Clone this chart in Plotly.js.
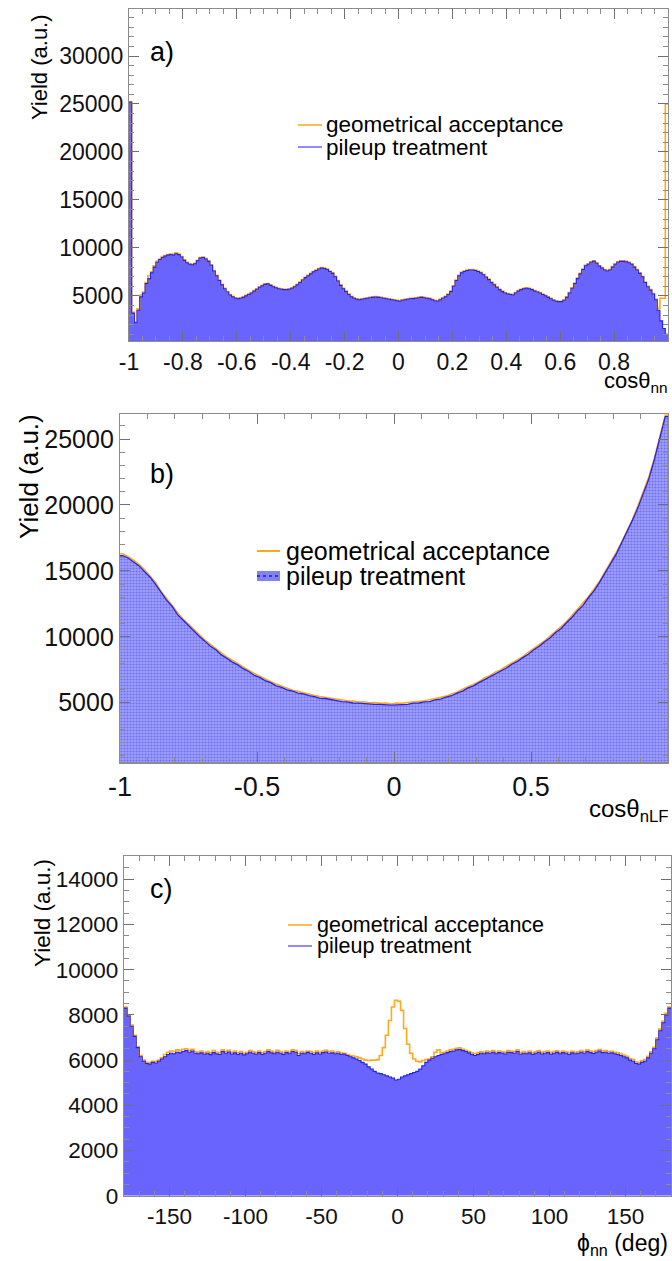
<!DOCTYPE html>
<html><head><meta charset="utf-8">
<script src="https://cdn.plot.ly/plotly-3.0.1.min.js"></script>
<style>html,body{margin:0;padding:0;background:#fff}#chart{width:672px;height:1261px}</style>
</head><body><div id="chart"></div>
<script>
// ---------------- data ----------------
// panel a: cos(theta_nn), 200 bins from -1 to 1
const aRange = [-1, 1];
const aPileup = [
 25200,3200,2200,3500,4900,5300,6300,6800,7400,8000,
 8500,8800,9000,9150,9250,9300,9250,9400,9300,9050,
 8700,8450,8300,8250,8350,8650,8950,9000,8850,8600,
 8200,7600,7100,6600,6150,5750,5400,5100,4900,4750,
 4700,4750,4850,5000,5150,5300,5500,5700,5900,6050,
 6200,6250,6100,5950,5850,5750,5700,5650,5650,5700,
 5800,5950,6150,6400,6650,6900,7100,7300,7500,7650,
 7800,7900,7850,7750,7550,7350,7000,6550,6100,5750,
 5450,5150,4900,4750,4650,4600,4650,4700,4750,4800,
 4850,4880,4850,4800,4750,4700,4650,4600,4550,4500,
 4450,4550,4600,4650,4700,4720,4750,4800,4850,4800,
 4750,4700,4600,4500,4450,4600,4750,4900,5150,5450,
 6000,6600,7100,7400,7550,7650,7700,7700,7650,7550,
 7400,7200,6950,6700,6400,6150,5900,5650,5450,5300,
 5200,5150,5100,5300,5500,5650,5750,5800,5750,5650,
 5500,5400,5300,5150,5000,4850,4700,4550,4450,4400,
 4400,4550,4850,5300,5800,6300,6800,7300,7750,8150,
 8300,8500,8600,8400,8100,7900,7700,7600,7700,8000,
 8300,8500,8600,8600,8550,8450,8300,8000,7700,7350,
 7000,6400,5950,5600,5200,4600,3500,2400,1600,1000];
const aGeo = [
 25200,3300,2300,3650,5100,5400,6400,7100,7500,8150,
 8600,8850,9100,9200,9300,9350,9300,9500,9350,9100,
 8750,8500,8350,8300,8400,8700,9000,9050,8900,8650,
 8250,7650,7150,6650,6200,5800,5450,5150,4950,4800,
 4750,4800,4900,5050,5200,5350,5550,5750,5950,6100,
 6250,6300,6150,6000,5900,5800,5750,5700,5700,5750,
 5850,6000,6200,6450,6700,6950,7150,7350,7550,7700,
 7850,7950,7900,7800,7600,7400,7050,6600,6150,5800,
 5500,5200,4950,4800,4700,4650,4700,4750,4800,4850,
 4900,4920,4900,4850,4800,4750,4700,4650,4600,4550,
 4500,4600,4650,4700,4750,4770,4800,4850,4900,4850,
 4800,4750,4650,4550,4500,4650,4800,4950,5200,5500,
 6050,6650,7150,7450,7600,7700,7750,7750,7700,7600,
 7450,7250,7000,6750,6450,6200,5950,5700,5500,5350,
 5250,5200,5150,5350,5550,5700,5800,5850,5800,5700,
 5550,5450,5350,5200,5050,4900,4750,4600,4500,4450,
 4450,4600,4900,5350,5850,6350,6850,7350,7800,8200,
 8350,8550,8650,8450,8150,7950,7750,7650,7750,8050,
 8350,8550,8650,8650,8600,8500,8350,8050,7750,7400,
 7050,6450,6000,5650,5250,4650,3700,4750,4750,25000];
const aTickVals = [-1,-0.8,-0.6,-0.4,-0.2,0,0.2,0.4,0.6,0.8,1];
const aTickText = ['-1','-0.8','-0.6','-0.4','-0.2','0','0.2','0.4','0.6','0.8','1'];
const aYTicks = [5000,10000,15000,20000,25000,30000];

// panel b: cos(theta_nLF), 100 bins from -1 to 1
const bRange = [-1, 1];
const bPileup = [
 16150,15980,15680,15380,14930,14520,13980,13330,12780,12320,
 11680,11270,10830,10470,10030,9670,9280,9020,8630,8370,
 8080,7870,7580,7370,7080,6920,6680,6520,6280,6170,
 5980,5870,5730,5670,5530,5470,5330,5320,5230,5170,
 5080,5070,4980,4970,4930,4920,4880,4870,4830,4810,
 4840,4870,4880,4970,4980,5070,5080,5220,5280,5420,
 5530,5720,5880,6120,6280,6520,6730,6970,7180,7420,
 7630,7920,8130,8420,8680,9020,9280,9630,9930,10330,
 10630,11080,11480,11980,12380,12980,13480,14130,14780,15530,
 16230,17080,17880,18830,19780,20880,21980,23430,24980,26700];
const bGeo = [
 16300,16080,15820,15470,15080,14600,14120,13420,12920,12400,
 11820,11350,10970,10550,10170,9750,9420,9100,8770,8450,
 8220,7950,7720,7450,7220,7000,6820,6600,6420,6250,
 6120,5950,5870,5750,5670,5550,5470,5400,5370,5250,
 5220,5150,5120,5050,5070,5000,5020,4950,4970,4900,
 4970,4950,5020,5050,5120,5150,5220,5300,5420,5500,
 5670,5800,6020,6200,6420,6600,6870,7050,7320,7500,
 7770,8000,8270,8500,8820,9100,9420,9700,10070,10400,
 10770,11150,11620,12050,12520,13050,13620,14200,14920,15600,
 16370,17150,18020,18900,19920,20950,22120,23500,25120,26800];
const bTickVals = [-1,-0.5,0,0.5,1];
const bTickText = ['-1','-0.5','0','0.5','1'];
const bYTicks = [5000,10000,15000,20000,25000];

// panel c: phi_nn (deg), 180 bins from -180 to 180
const cRange = [-180, 180];
const cPileup = [
 8300,7950,7500,7050,6550,6150,5950,5850,5820,5900,
 5870,5950,6050,6150,6250,6300,6280,6350,6320,6380,
 6420,6350,6400,6300,6280,6320,6260,6300,6240,6330,
 6280,6250,6380,6300,6360,6270,6320,6250,6300,6230,
 6280,6350,6300,6260,6330,6250,6300,6380,6320,6280,
 6350,6300,6250,6330,6280,6380,6350,6200,6300,6280,
 6340,6300,6250,6320,6270,6330,6360,6300,6320,6280,
 6300,6250,6270,6200,6150,6100,6050,5980,5900,5820,
 5700,5600,5500,5430,5400,5350,5300,5250,5200,5120,
 5150,5250,5300,5350,5400,5450,5500,5600,5750,5900,
 6000,6080,6150,6200,6250,6280,6330,6380,6400,6450,
 6470,6420,6380,6320,6250,6200,6250,6300,6280,6320,
 6300,6350,6280,6330,6300,6270,6350,6330,6300,6380,
 6260,6300,6280,6320,6250,6300,6350,6270,6300,6330,
 6260,6300,6340,6280,6330,6300,6250,6320,6280,6300,
 6350,6300,6380,6330,6290,6350,6400,6330,6350,6300,
 6320,6280,6250,6200,6150,6100,6000,5950,5850,5820,
 5900,5950,6100,6300,6500,6900,7300,7650,8000,8300];
const cGeo = [
 8350,8000,7550,7100,6600,6200,6000,5900,5880,5950,
 5950,6000,6100,6250,6350,6400,6380,6450,6420,6480,
 6500,6430,6480,6380,6350,6400,6330,6380,6320,6420,
 6350,6330,6450,6380,6430,6350,6400,6320,6380,6300,
 6350,6420,6380,6330,6400,6320,6380,6450,6400,6350,
 6430,6380,6320,6400,6350,6450,6420,6280,6380,6350,
 6400,6380,6320,6400,6350,6400,6430,6380,6400,6350,
 6370,6320,6300,6250,6200,6180,6150,6100,6050,6000,
 5980,6000,5990,6020,6200,6550,7100,7750,8350,8650,
 8600,8200,7400,6700,6300,6050,5950,5920,5980,6020,
 6050,6150,6350,6450,6320,6350,6400,6450,6480,6520,
 6540,6480,6430,6380,6320,6280,6320,6370,6350,6400,
 6370,6420,6350,6400,6370,6340,6420,6400,6380,6450,
 6330,6380,6350,6400,6320,6370,6420,6340,6380,6400,
 6330,6380,6410,6350,6400,6370,6320,6390,6350,6370,
 6420,6380,6450,6400,6360,6420,6470,6400,6420,6370,
 6390,6350,6320,6270,6220,6170,6070,6020,5920,5890,
 5970,6020,6170,6370,6570,6970,7370,7720,8070,8350];
const cTickVals = [-150,-100,-50,0,50,100,150];
const cTickText = ['-150','-100','-50','0','50','100','150'];
const cYTicks = [0,2000,4000,6000,8000,10000,12000,14000];

const legendGeo = 'geometrical acceptance';
const legendPile = 'pileup treatment';

// ---------------- helpers ----------------
const W = 672, H = 1261;
const px = x => x / W, py = y => 1 - y / H;
const FF = '"Liberation Sans", Arial, Helvetica, sans-serif';
const ORANGE = '#ffa81c', BLUE = '#2222ee', FILL = '#6a64ff';

// histogram outline: bin edges, drawn with 'hv' steps
function step(range, vals) {
  const n = vals.length, w = (range[1] - range[0]) / n;
  const x = [], y = [];
  for (let i = 0; i < n; i++) { x.push(range[0] + i * w); y.push(vals[i]); }
  x.push(range[1]); y.push(vals[n - 1]);
  return {x, y, shape: 'hv'};
}
// fine-binned histogram drawn through bin centres (bins ~1px wide in the reference)
function centres(range, vals) {
  const n = vals.length, w = (range[1] - range[0]) / n;
  const x = [range[0]], y = [vals[0]];
  for (let i = 0; i < n; i++) { x.push(range[0] + (i + 0.5) * w); y.push(vals[i]); }
  x.push(range[1]); y.push(vals[n - 1]);
  return {x, y, shape: 'linear'};
}

function traces(mk, range, pile, geo, xa, ya, fillSpec, blueWidth) {
  const p = mk(range, pile), g = mk(range, geo);
  const fillTrace = Object.assign({x: p.x, y: p.y, xaxis: xa, yaxis: ya, type: 'scatter', mode: 'lines',
    line: {width: 0, shape: p.shape, color: FILL}, fill: 'tozeroy', showlegend: false, hoverinfo: 'skip'}, fillSpec);
  return [
    fillTrace,
    {x: g.x, y: g.y, xaxis: xa, yaxis: ya, type: 'scatter', mode: 'lines', line: {color: ORANGE, width: 1.6, shape: g.shape}, showlegend: false, hoverinfo: 'skip'},
    {x: p.x, y: p.y, xaxis: xa, yaxis: ya, type: 'scatter', mode: 'lines', line: {color: BLUE, width: blueWidth, shape: p.shape}, showlegend: false, hoverinfo: 'skip'}
  ];
}

function axis(domain, range, tickvals, ticktext, minorDtick, minorTick0, fs, anchor) {
  return {domain, range, anchor, tickmode: 'array', tickvals, ticktext,
    showline: true, mirror: 'allticks', linecolor: '#8c8c8c', linewidth: 1.2,
    ticks: 'inside', ticklen: 10, tickwidth: 1, tickcolor: '#707070',
    minor: {ticks: 'inside', ticklen: 5, dtick: minorDtick, tick0: minorTick0, tickcolor: '#8c8c8c', tickwidth: 1},
    showgrid: false, zeroline: false, fixedrange: true,
    tickfont: {family: FF, size: fs, color: '#111'}};
}

const data = [].concat(
  traces(step, aRange, aPileup, aGeo, 'x', 'y', {fillcolor: FILL}, 1.1),
  traces(centres, bRange, bPileup, bGeo, 'x2', 'y2', {fillcolor: '#8585f5', fillpattern: {shape: '.', fgcolor: '#6e6ef2', bgcolor: '#a0a0fb', size: 3, solidity: 0.4}}, 1.3),
  traces(step, cRange, cPileup, cGeo, 'x3', 'y3', {fillcolor: FILL}, 1.1)
);

const ann = (text, x, y, size, opts) => Object.assign({text, x: px(x), y: py(y), xref: 'paper', yref: 'paper',
  showarrow: false, xanchor: 'left', yanchor: 'middle', font: {family: FF, size, color: '#000'}}, opts || {});

const annotations = [
  ann('a)', 148, 52, 27),
  ann('b)', 148, 474, 27),
  ann('c)', 148, 889, 27),
  ann('Yield (a.u.)', 39, 67, 22, {xanchor: 'center', textangle: -90}),
  ann('Yield (a.u.)', 29, 477, 26, {xanchor: 'center', textangle: -90}),
  ann('Yield (a.u.)', 42, 913, 22.5, {xanchor: 'center', textangle: -90}),
  ann('cosθ<sub>nn</sub>', 670, 382, 22, {xanchor: 'right'}),
  ann('cosθ<sub>nLF</sub>', 671, 810, 24, {xanchor: 'right'}),
  ann('ϕ<sub>nn</sub> (deg)', 670, 1244, 23, {xanchor: 'right'}),
  // legends
  ann(legendGeo, 324, 125, 22.5),
  ann(legendPile, 324, 147, 22.5),
  ann(legendGeo, 284, 551, 25),
  ann(legendPile, 284, 576, 25),
  ann(legendGeo, 315, 925, 21.5),
  ann(legendPile, 315, 946, 21.5)
];

const L = (x0, y0, x1, y1, color, width, dash) => ({type: 'line', xref: 'paper', yref: 'paper',
  x0: px(x0), y0: py(y0), x1: px(x1), y1: py(y1), line: {color, width, dash: dash || 'solid'}});
const shapes = [
  L(298, 125, 322, 125, ORANGE, 1.5),
  L(298, 147, 322, 147, '#6a64ff', 1.5),
  L(257, 551, 280, 551, ORANGE, 2),
  {type: 'rect', xref: 'paper', yref: 'paper', x0: px(257), x1: px(280), y0: py(581), y1: py(571),
    fillcolor: '#8282f5', line: {width: 0}},
  L(257, 576, 280, 576, '#1a1ae0', 1.3, 'dot'),
  L(288, 925, 312, 925, ORANGE, 1.5),
  L(288, 946, 312, 946, '#6a64ff', 1.5)
];

const layout = {
  width: W, height: H, margin: {l: 0, r: 0, t: 0, b: 0},
  paper_bgcolor: '#fff', plot_bgcolor: '#fff', showlegend: false,
  font: {family: FF, color: '#000'},
  xaxis: axis([px(129), px(668)], aRange, aTickVals, aTickText, 0.05, -1, 23, 'y'),
  yaxis: axis([py(341), py(9)], [300, 34900], aYTicks, aYTicks.map(String), 1000, 0, 23, 'x'),
  xaxis2: axis([px(120), px(668)], bRange, bTickVals, bTickText, 0.1, -1, 27, 'y2'),
  yaxis2: axis([py(762.3), py(414)], [480, 26900], bYTicks, bYTicks.map(String), 1000, 0, 25, 'x2'),
  xaxis3: axis([px(124), px(671)], cRange, cTickVals, cTickText, 10, -180, 22.5, 'y3'),
  yaxis3: axis([py(1195.7), py(856)], [0, 15030], cYTicks, cYTicks.map(String), 500, 0, 22.5, 'x3'),
  annotations, shapes
};

Plotly.newPlot('chart', data, layout, {staticPlot: true, displayModeBar: false});
</script>
</body></html>
